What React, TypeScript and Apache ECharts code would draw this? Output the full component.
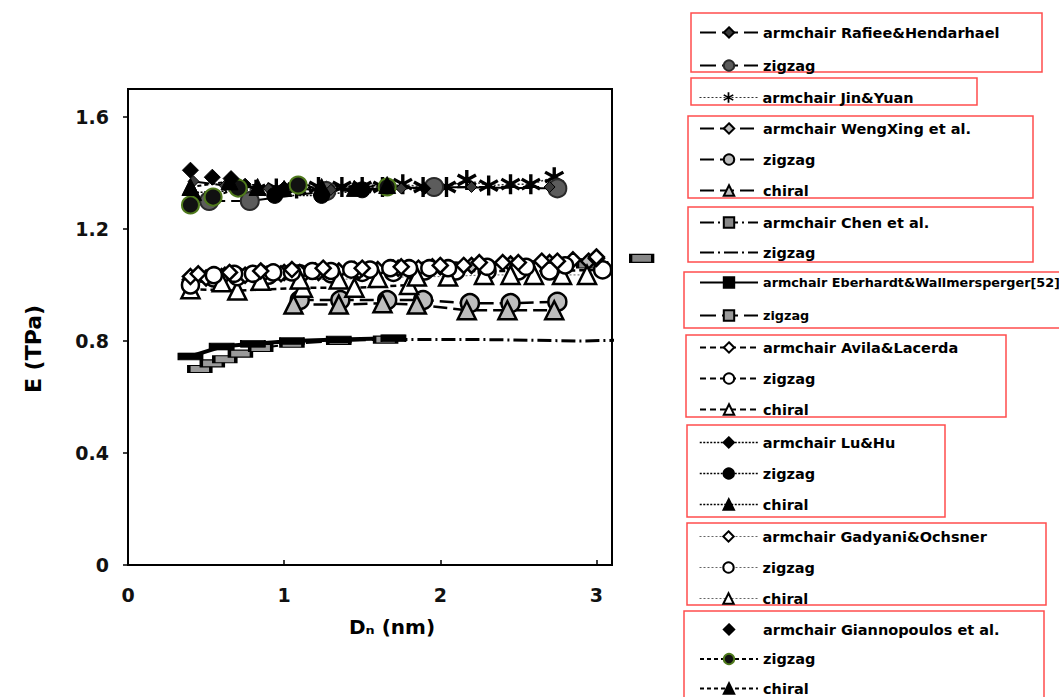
import React, { useEffect, useRef } from "react";
import * as echarts from "echarts";

// Axis ticks
const xTicks = [0, 1, 2, 3];
const yTicks = [0, 0.4, 0.8, 1.2, 1.6];

// [diameter (nm), Young's modulus (TPa)]
const rafieeArm = [[0.42, 1.37], [0.62, 1.355], [0.9, 1.345], [1.3, 1.34], [1.75, 1.345], [2.2, 1.35], [2.7, 1.35]];
const rafieeZig = [[0.52, 1.3], [0.78, 1.3], [1.27, 1.335], [1.96, 1.35], [2.75, 1.345]];
const jinYuanArm = [[0.82, 1.34], [0.95, 1.345], [1.08, 1.345], [1.22, 1.35], [1.37, 1.35], [1.5, 1.35], [1.63, 1.35], [1.76, 1.36], [1.89, 1.35], [2.04, 1.35], [2.17, 1.375], [2.31, 1.355], [2.45, 1.36], [2.58, 1.36], [2.73, 1.385]];
const wengArm = [[0.4, 1.02], [0.6, 1.03], [0.8, 1.04], [1.0, 1.045], [1.2, 1.05], [1.45, 1.055], [1.7, 1.06], [1.95, 1.065], [2.2, 1.07], [2.45, 1.075], [2.7, 1.08], [2.95, 1.085]];
const wengZig = [[1.1, 0.946], [1.36, 0.946], [1.66, 0.946], [1.89, 0.946], [2.19, 0.935], [2.45, 0.935], [2.75, 0.94]];
const wengChir = [[1.06, 0.93], [1.35, 0.93], [1.63, 0.935], [1.85, 0.93], [2.17, 0.91], [2.43, 0.91], [2.73, 0.91]];
const chenArm = [[2.95, 1.075], [3.29, 1.095]];
const chenZig = [[1.7, 0.805], [2.3, 0.805], [2.9, 0.8], [3.33, 0.805]];
const eberArm = [[0.4, 0.745], [0.6, 0.78], [0.8, 0.79], [1.05, 0.8], [1.35, 0.805], [1.7, 0.81]];
const eberZig = [[0.46, 0.7], [0.54, 0.72], [0.62, 0.735], [0.72, 0.755], [0.85, 0.775], [1.05, 0.79], [1.35, 0.8], [1.65, 0.805]];
const avilaArm = [[0.4, 1.03], [0.5, 1.025], [0.62, 1.035], [0.75, 1.035], [0.87, 1.04], [0.98, 1.04], [1.1, 1.045], [1.22, 1.045], [1.35, 1.05], [1.48, 1.05], [1.6, 1.055], [1.73, 1.06], [1.86, 1.06], [2.0, 1.065], [2.15, 1.07], [2.4, 1.08], [2.65, 1.085], [2.85, 1.09], [3.0, 1.095]];
const avilaZig = [[0.4, 1.0], [0.55, 1.025], [0.7, 1.03], [0.9, 1.035], [1.1, 1.04], [1.3, 1.04], [1.5, 1.045], [1.7, 1.045], [1.9, 1.05], [2.1, 1.05], [2.3, 1.05], [2.5, 1.05], [2.7, 1.05], [3.04, 1.054]];
const avilaChir = [[0.4, 0.985], [0.7, 0.98], [1.12, 0.99], [1.45, 0.99], [1.8, 1.0]];
const luHuArm = [[0.75, 1.36], [1.0, 1.35], [1.45, 1.345], [1.9, 1.345]];
const luHuZig = [[0.94, 1.32], [1.24, 1.32], [1.5, 1.34]];
const luHuChir = [[0.42, 1.33], [1.0, 1.345], [1.45, 1.345]];
const gadArm = [[0.45, 1.04], [0.65, 1.045], [0.85, 1.05], [1.05, 1.055], [1.25, 1.06], [1.5, 1.06], [1.75, 1.065], [2.0, 1.07], [2.25, 1.08], [2.5, 1.08], [2.75, 1.085], [3.0, 1.1]];
const gadZig = [[0.55, 1.035], [0.68, 1.04], [0.8, 1.04], [0.93, 1.045], [1.05, 1.045], [1.18, 1.05], [1.3, 1.05], [1.43, 1.055], [1.55, 1.055], [1.68, 1.06], [1.8, 1.06], [1.93, 1.06], [2.05, 1.06], [2.3, 1.065], [2.55, 1.065], [2.8, 1.07]];
const gadChir = [[0.6, 1.01], [0.85, 1.015], [1.1, 1.02], [1.35, 1.02], [1.6, 1.025], [1.85, 1.03], [2.05, 1.03], [2.28, 1.036], [2.45, 1.036], [2.6, 1.036], [2.78, 1.036], [2.94, 1.036]];
const gianArm = [[0.4, 1.41], [0.54, 1.385], [0.66, 1.38]];
const gianZig = [[0.4, 1.286], [0.545, 1.314], [0.705, 1.346], [1.09, 1.357], [1.66, 1.35]];
const gianChir = [[0.4, 1.35], [0.65, 1.37], [0.83, 1.35], [1.24, 1.35], [1.66, 1.357]];

// Legend labels keyed by series id
const labels: Record<string, string> = {
  rafieeArm: "armchair Rafiee&Hendarhael",
  rafieeZig: "zigzag",
  jinYuanArm: "armchair Jin&Yuan",
  wengArm: "armchair WengXing et al.",
  wengZig: "zigzag",
  wengChir: "chiral",
  chenArm: "armchair Chen et al.",
  chenZig: "zigzag",
  eberArm: "armchair Eberhardt&Wallmersperger[52]",
  eberZig: "zigzag",
  avilaArm: "armchair Avila&Lacerda",
  avilaZig: "zigzag",
  avilaChir: "chiral",
  luHuArm: "armchair Lu&Hu",
  luHuZig: "zigzag",
  luHuChir: "chiral",
  gadArm: "armchair Gadyani&Ochsner",
  gadZig: "zigzag",
  gadChir: "chiral",
  gianArm: "armchair Giannopoulos et al.",
  gianZig: "zigzag",
  gianChir: "chiral",
};

// six-armed asterisk marker built from three bars
function asteriskPath(): string {
  const L = 50, w = 8, c = 50;
  const parts: string[] = [];
  [90, 30, 150].forEach((deg) => {
    const t = (deg * Math.PI) / 180;
    const dx = Math.cos(t), dy = Math.sin(t);
    const nx = -dy, ny = dx;
    const pts = [
      [c + dx * L + nx * w, c + dy * L + ny * w],
      [c + dx * L - nx * w, c + dy * L - ny * w],
      [c - dx * L - nx * w, c - dy * L - ny * w],
      [c - dx * L + nx * w, c - dy * L + ny * w],
    ];
    parts.push("M" + pts.map((p) => p[0].toFixed(2) + " " + p[1].toFixed(2)).join(" L") + " Z");
  });
  return "path://" + parts.join(" ");
}

const FONT = "DejaVu Sans";

function line(id: string, data: number[][], symbol: string, size: any, item: any, ls: any, extra: any = {}) {
  return {
    type: "line",
    id,
    name: id,
    data,
    symbol,
    symbolSize: size,
    showSymbol: symbol !== "none",
    itemStyle: item,
    lineStyle: ls,
    z: 3,
    ...extra,
  };
}

const black = { color: "#000", borderColor: "#000", borderWidth: 1 };
const open = { color: "#fff", borderColor: "#000", borderWidth: 2.5 };
const greyOpen = { color: "#bdbdbd", borderColor: "#000", borderWidth: 2.5 };
const hidden = { color: "rgba(0,0,0,0)", borderColor: "rgba(0,0,0,0)", borderWidth: 0 };

// One vertical legend per group; rowCenter is the centre of its first row
function legendGroup(ids: any[], rowCenter: number, gap: number, lineWidth: any = "auto", fontSize = 14.5) {
  return {
    orient: "vertical",
    left: 699,
    top: rowCenter - 8.5,
    height: 140,
    itemGap: gap,
    itemWidth: 58,
    itemHeight: 13,
    padding: 0,
    selectedMode: false,
    data: ids,
    formatter: (n: string) => labels[n],
    lineStyle: { width: lineWidth },
    textStyle: { fontFamily: FONT, fontWeight: "bold", fontSize, color: "#000", lineHeight: 16 },
  };
}

function box(x: number, y: number, w: number, h: number) {
  return {
    type: "rect",
    shape: { x, y, width: w, height: h },
    style: { fill: "none", stroke: "#ff4d4d", lineWidth: 1.5 },
    silent: true,
  };
}

export default function App() {
  const ref = useRef<HTMLDivElement>(null);
  useEffect(() => {
    if (!ref.current) return;
    const chart = echarts.init(ref.current, undefined, { renderer: "svg" });
    const star = asteriskPath();
    const option: any = {
      animation: false,
      backgroundColor: "#fff",
      grid: {
        left: 128,
        top: 89,
        width: 484,
        height: 476,
        show: true,
        borderColor: "#000",
        borderWidth: 2,
        backgroundColor: "transparent",
      },
      xAxis: {
        type: "value",
        min: 0,
        max: 3.1,
        interval: 1,
        axisLine: { show: true, lineStyle: { color: "#000", width: 2 } },
        axisTick: { show: true, inside: true, length: 5, customValues: xTicks, lineStyle: { color: "#000", width: 1.5 } },
        axisLabel: { customValues: xTicks, margin: 20, fontFamily: FONT, fontWeight: "bold", fontSize: 19, color: "#111" },
        splitLine: { show: false },
        name: "Dₙ (nm)",
        nameLocation: "middle",
        nameGap: 52,
        nameTextStyle: { fontFamily: FONT, fontWeight: "bold", fontSize: 20, color: "#000", padding: [0, 0, 0, 44] },
      },
      yAxis: {
        type: "value",
        min: 0,
        max: 1.7,
        interval: 0.4,
        axisLine: { show: true, lineStyle: { color: "#000", width: 2 } },
        axisTick: { show: true, length: 5, customValues: yTicks, lineStyle: { color: "#000", width: 1.5 } },
        axisLabel: {
          customValues: yTicks,
          margin: 19,
          fontFamily: FONT,
          fontWeight: "bold",
          fontSize: 19,
          color: "#111",
          formatter: (v: number) => String(Math.round(v * 10) / 10),
        },
        splitLine: { show: false },
        name: "E (TPa)",
        nameLocation: "middle",
        nameGap: 84,
        nameRotate: 90,
        nameTextStyle: { fontFamily: FONT, fontWeight: "bold", fontSize: 22, color: "#000", padding: [0, 44, 0, 0] },
      },
      legend: [
        legendGroup(["rafieeArm", "rafieeZig"], 33, 17),
        legendGroup(["jinYuanArm"], 98, 10, 1),
        legendGroup(["wengArm", "wengZig", "wengChir"], 129, 15),
        legendGroup(["chenArm", { name: "chenZig", itemStyle: hidden }], 223, 14),
        { ...legendGroup(["eberArm", "eberZig"], 283, 17), textStyle: { fontFamily: FONT, fontWeight: "bold", fontSize: 12.8, color: "#000", lineHeight: 16 } },
        legendGroup(["avilaArm", "avilaZig", "avilaChir"], 348, 15),
        legendGroup(["luHuArm", "luHuZig", "luHuChir"], 443, 15, 1.5),
        legendGroup(["gadArm", "gadZig", "gadChir"], 537, 15, 1),
        legendGroup(["gianArm", "gianZig", "gianChir"], 630, 13.5),
      ],
      graphic: [
        box(691, 13, 351, 59),
        box(691, 78, 286, 27),
        box(688, 116, 345, 82),
        box(688, 207, 345, 55),
        box(684, 272, 380, 56),
        box(686, 335, 320, 82),
        box(687, 425, 258, 92),
        box(687, 523, 359, 82),
        box(684, 611, 360, 90),
      ],
      series: [
        // Eberhardt & Wallmersperger and Chen et al. (lowest branch)
        line("eberZig", eberZig, "rect", [22, 7], { color: "#9a9a9a", borderColor: "#000", borderWidth: 2 }, { color: "#000", width: 2, type: [16, 6] }),
        line("eberArm", eberArm, "rect", [24, 7], { color: "#000", borderColor: "#000", borderWidth: 1 }, { color: "#000", width: 4 }),
        line("chenZig", chenZig, "none", 0, { color: "#000" }, { color: "#000", width: 3, type: [14, 4, 2, 4] }, { clip: false }),
        line("chenArm", chenArm, "rect", [22, 8], { color: "#888", borderColor: "#000", borderWidth: 2 }, { color: "#000", width: 2, type: [14, 4, 2, 4] }, { clip: false }),
        // Weng Xing et al.
        line("wengZig", wengZig, "circle", 18, greyOpen, { color: "#000", width: 2.5, type: [14, 6] }),
        line("wengChir", wengChir, "triangle", 18, greyOpen, { color: "#000", width: 2.5, type: [14, 6] }),
        line("wengArm", wengArm, "diamond", 15, greyOpen, { color: "#000", width: 2.5, type: [14, 6] }),
        // Avila & Lacerda
        line("avilaChir", avilaChir, "triangle", 18, open, { color: "#000", width: 2.5, type: [6, 4] }),
        line("avilaZig", avilaZig, "circle", 17, open, { color: "#000", width: 2.5, type: [6, 4] }, { clip: false }),
        line("avilaArm", avilaArm, "diamond", 15, open, { color: "#000", width: 2.5, type: [6, 4] }),
        // Gadyani & Ochsner
        line("gadChir", gadChir, "triangle", 18, open, { color: "#666", width: 1, type: [2, 2] }),
        line("gadZig", gadZig, "circle", 16, open, { color: "#666", width: 1, type: [2, 2] }),
        line("gadArm", gadArm, "diamond", 15, open, { color: "#666", width: 1, type: [2, 2] }),
        // upper branch
        line("jinYuanArm", jinYuanArm, star, 20, { color: "#000", borderWidth: 0 }, { color: "#333", width: 1.5, type: [2, 2] }),
        line("rafieeZig", rafieeZig, "circle", 18, { color: "#5c5c5c", borderColor: "#2a2a2a", borderWidth: 2 }, { color: "#000", width: 2, type: [16, 6] }),
        line("rafieeArm", rafieeArm, "diamond", 11, { color: "#3a3a3a", borderColor: "#000", borderWidth: 1 }, { color: "#000", width: 2, type: [16, 6] }),
        line("luHuChir", luHuChir, "triangle", 16, black, { color: "#000", width: 1.5, type: [2, 1.5] }),
        line("luHuZig", luHuZig, "circle", 16, black, { color: "#000", width: 1.5, type: [2, 1.5] }),
        line("luHuArm", luHuArm, "diamond", 12, black, { color: "#000", width: 1.5, type: [2, 1.5] }),
        line("gianZig", gianZig, "circle", 17, { color: "#111", borderColor: "#4f7a1c", borderWidth: 2 }, { color: "#000", width: 2, type: [4, 3] }),
        line("gianChir", gianChir, "triangle", 17, black, { color: "#000", width: 2, type: [4, 3] }),
        line("gianArm", gianArm, "diamond", 16, black, { color: "#000", width: 0, opacity: 0 }),
      ],
    };
    chart.setOption(option);
    return () => chart.dispose();
  }, []);
  return (
    <div
      ref={ref}
      style={{ position: "fixed", left: 0, top: 0, width: 1059, height: 697, background: "#fff" }}
    />
  );
}
